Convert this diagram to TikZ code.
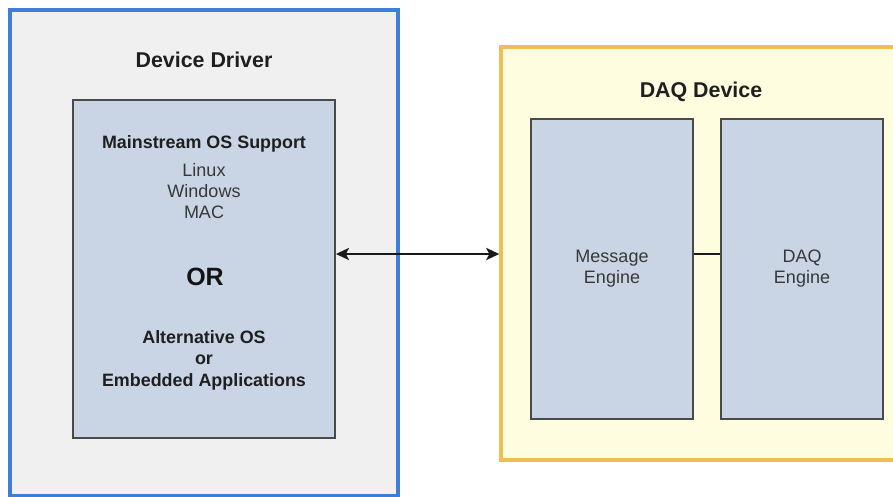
\documentclass[tikz,border=0pt]{standalone}
\usepackage{fontspec}
\setmainfont{Liberation Sans}
\usetikzlibrary{arrows.meta,shadows}

\definecolor{drvfill}{HTML}{F0F0F0}
\definecolor{drvline}{HTML}{3D7FD8}
\definecolor{daqfill}{HTML}{FFFDE0}
\definecolor{daqline}{HTML}{EFBF55}
\definecolor{blockfill}{HTML}{C9D5E5}
\definecolor{blockline}{HTML}{4A4A4A}

\begin{document}
\begin{tikzpicture}[x=1pt,y=-1pt,
    outerbox/.style={draw, line width=3.4pt, inner sep=0pt},
    block/.style={draw=blockline, fill=blockfill, line width=1.8pt, inner sep=0pt,
        drop shadow={shadow xshift=1.2pt, shadow yshift=-1.2pt, opacity=.35}},
    title/.style={font=\bfseries\fontsize{21.4}{25}\selectfont, text=black!88, inner sep=0pt},
    plain/.style={font=\fontsize{18}{21}\selectfont, text=black!78, align=center, inner sep=0pt},
    heavy/.style={font=\bfseries\fontsize{17.9}{21.5}\selectfont, text=black!88, align=center, inner sep=0pt},
    link/.style={draw=black!90, line width=2.4pt}]
    \useasboundingbox (0,0) rectangle (893,497);
    \fill[white] (0,0) rectangle (893,497);
    \node[outerbox, draw=drvline, fill=drvfill, minimum width=388pt, minimum height=486pt] (driver) at (204,253) {};
    \node[outerbox, draw=daqline, fill=daqfill, minimum width=420pt, minimum height=413pt] (device) at (711,253.5) {};
    \node[title] (drvtitle) at (204,60) {Device Driver};
    \node[title] (daqtitle) at (701,92) {DAQ Device};
    \node[block, minimum width=262pt, minimum height=338pt] (os) at (204,269) {};
    \node[heavy] (mainos) at (204,143.5) {Mainstream OS Support};
    \node[plain] (oslist) at (204,191) {Linux\\Windows\\MAC};
    \node[font=\bfseries\fontsize{25}{30}\selectfont, text=black!92, inner sep=0pt] (or) at (205,277) {OR};
    \node[heavy] (altos) at (204,360) {Alternative OS\\or\\Embedded Applications};
    \node[block, plain, minimum width=162pt, minimum height=300pt] (msg) at (612,269) {Message\\Engine};
    \node[block, plain, minimum width=162pt, minimum height=300pt] (eng) at (802,269) {DAQ\\Engine};
    \coordinate (mid) at (0,254);
    \path[link, {Stealth[length=13pt,width=12pt,inset=3pt]}-{Stealth[length=13pt,width=12pt,inset=3pt]}]
        (os.east |- mid) -- (device.west |- mid);
    \path[link, line width=1.8pt] (msg.east |- mid) -- (eng.west |- mid);
\end{tikzpicture}
\end{document}
